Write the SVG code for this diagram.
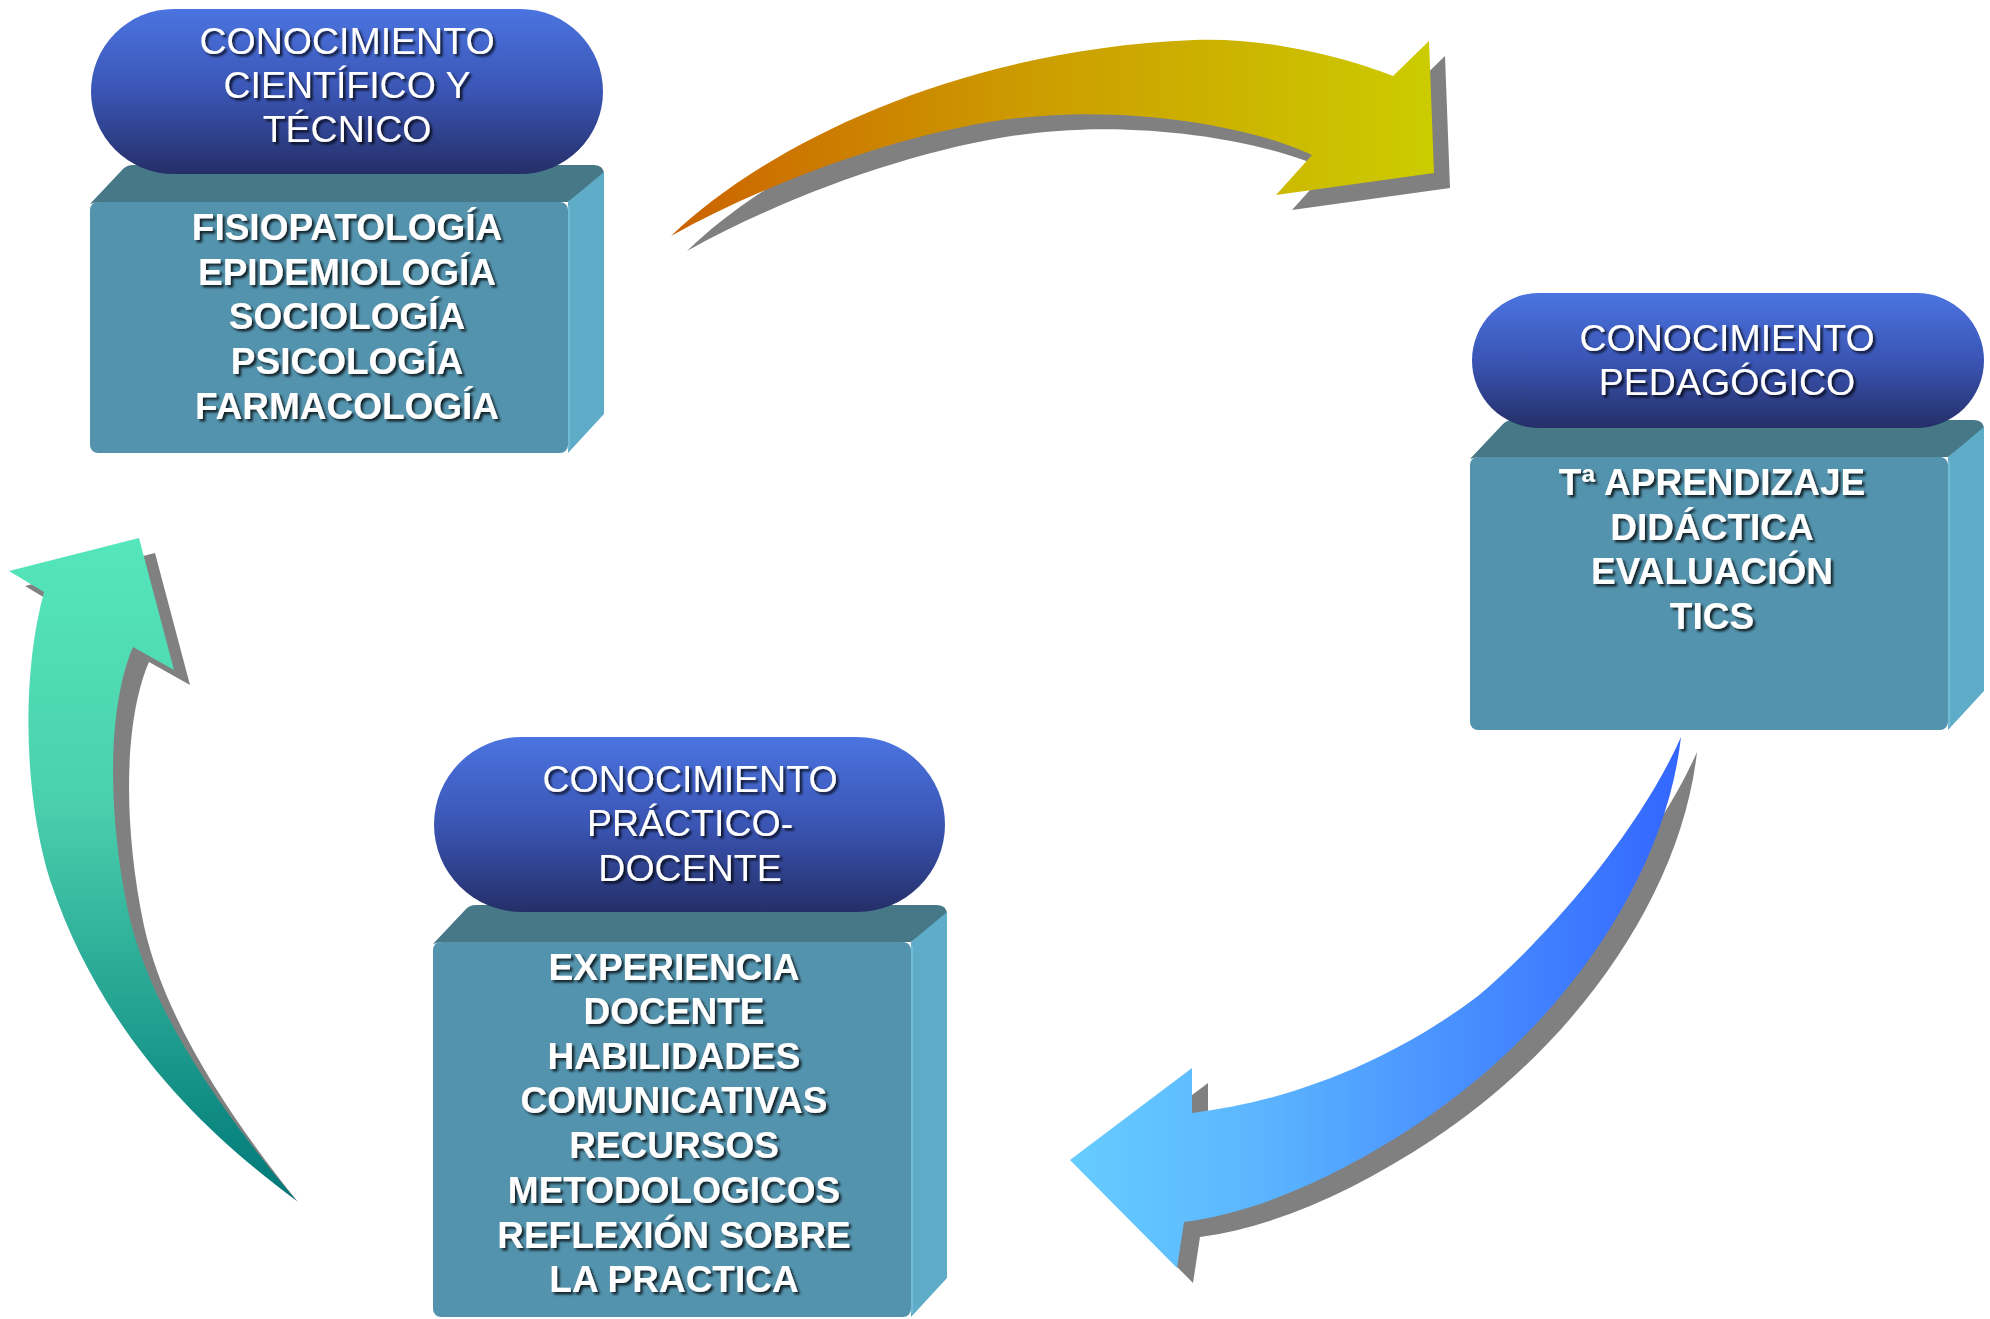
<svg xmlns="http://www.w3.org/2000/svg" width="1990" height="1319" viewBox="0 0 1990 1319">
  <defs>
    <linearGradient id="pillGrad" x1="0" y1="0" x2="0" y2="1">
      <stop offset="0" stop-color="#4B74E0"/>
      <stop offset="0.5" stop-color="#3A55B4"/>
      <stop offset="1" stop-color="#252F68"/>
    </linearGradient>
    <linearGradient id="gradOrange" gradientUnits="userSpaceOnUse" x1="671" y1="0" x2="1434" y2="0">
      <stop offset="0" stop-color="#CC6200"/>
      <stop offset="0.45" stop-color="#CC9A00"/>
      <stop offset="1" stop-color="#CCCC00"/>
    </linearGradient>
    <linearGradient id="gradBlue" gradientUnits="userSpaceOnUse" x1="1070" y1="0" x2="1681" y2="0">
      <stop offset="0" stop-color="#66CCFF"/>
      <stop offset="0.3" stop-color="#5CB6FF"/>
      <stop offset="1" stop-color="#3366FF"/>
    </linearGradient>
    <linearGradient id="gradTeal" gradientUnits="userSpaceOnUse" x1="0" y1="538" x2="0" y2="1200">
      <stop offset="0" stop-color="#55E6BB"/>
      <stop offset="0.4" stop-color="#4AD0AD"/>
      <stop offset="1" stop-color="#007878"/>
    </linearGradient>
    <filter id="txtShadow" x="-10%" y="-30%" width="120%" height="160%">
      <feDropShadow dx="2.5" dy="2.5" stdDeviation="1.2" flood-color="#000" flood-opacity="0.75"/>
    </filter>
    <style>
      .front { fill: #5393AD; }
      .top { fill: #467888; }
      .side { fill: #5EACC8; }
      .edge { stroke: #72BCD6; stroke-width: 2; fill: none; }
      .pill { fill: url(#pillGrad); }
      .shadow { fill: #808080; }
      .title { font-family: "Liberation Sans", Arial, sans-serif; font-size: 37.5px; fill: #FFFFFF; text-anchor: middle; filter: url(#txtShadow); }
      .body { font-family: "Liberation Sans", Arial, sans-serif; font-size: 37px; font-weight: bold; fill: #FFFFFF; text-anchor: middle; filter: url(#txtShadow); }
    </style>
  </defs>

  <rect width="1990" height="1319" fill="#FFFFFF"/>

  <g id="connectors">
    <g id="arrow-top">
      <path class="shadow" transform="translate(16,15)" d="M671,236 C760,150 950,50 1194,40 C1260,37 1340,55 1393,76 L1429,41 L1434,173 L1276,195 L1312,155 C1260,130 1150,108 1042,116 C940,122 790,170 671,236 Z"/>
      <path fill="url(#gradOrange)" d="M671,236 C760,150 950,50 1194,40 C1260,37 1340,55 1393,76 L1429,41 L1434,173 L1276,195 L1312,155 C1260,130 1150,108 1042,116 C940,122 790,170 671,236 Z"/>
    </g>
    <g id="arrow-right">
      <path class="shadow" transform="translate(16,15)" d="M1681,737 C1665,880 1560,1030 1416,1125 C1340,1175 1260,1212 1184,1222 L1177,1268 L1070,1160 L1192,1068 L1192,1113 C1300,1100 1400,1055 1478,996 C1550,935 1640,830 1681,737 Z"/>
      <path fill="url(#gradBlue)" d="M1681,737 C1665,880 1560,1030 1416,1125 C1340,1175 1260,1212 1184,1222 L1177,1268 L1070,1160 L1192,1068 L1192,1113 C1300,1100 1400,1055 1478,996 C1550,935 1640,830 1681,737 Z"/>
    </g>
    <g id="arrow-left">
      <path class="shadow" d="M298,1202 C216,1140 116,1040 66,895 C41,815 36,695 60,607 L25,586 L155,553 L190,685 L149,662 C126,715 121,815 144,926 C166,1025 236,1125 298,1202 Z"/>
      <path fill="url(#gradTeal)" d="M296,1200 C200,1130 100,1030 50,880 C25,800 20,680 44,592 L9,571 L139,538 L174,670 L133,647 C110,700 105,800 128,911 C150,1010 220,1110 296,1200 Z"/>
    </g>
  </g>

  <g id="node-cientifico">
    <g transform="translate(90,202)">
      <path class="top" d="M0,2 L33,-33 Q37,-37 43,-37 L504,-37 Q514,-37 514,-27 L478,0 L8,0 Z"/>
      <path class="side" d="M478,0 L514,-30 L514,212 L478,251 Z"/>
      <rect class="front" x="0" y="0" width="478" height="251" rx="8"/>
      <path class="edge" d="M479,4 L479,247"/>
    </g>
    <rect class="pill" x="91" y="9" width="512" height="165" rx="82.5"/>
    <text class="title" x="347" y="54">CONOCIMIENTO</text>
    <text class="title" x="347" y="98">CIENTÍFICO Y</text>
    <text class="title" x="347" y="142">TÉCNICO</text>
    <text class="body" x="347" y="240">FISIOPATOLOGÍA</text>
    <text class="body" x="347" y="285">EPIDEMIOLOGÍA</text>
    <text class="body" x="347" y="329">SOCIOLOGÍA</text>
    <text class="body" x="347" y="374">PSICOLOGÍA</text>
    <text class="body" x="347" y="419">FARMACOLOGÍA</text>
  </g>

  <g id="node-pedagogico">
    <g transform="translate(1470,457)">
      <path class="top" d="M0,2 L33,-33 Q37,-37 43,-37 L504,-37 Q514,-37 514,-27 L478,0 L8,0 Z"/>
      <path class="side" d="M478,0 L514,-30 L514,234 L478,273 Z"/>
      <rect class="front" x="0" y="0" width="478" height="273" rx="8"/>
      <path class="edge" d="M479,4 L479,269"/>
    </g>
    <rect class="pill" x="1472" y="293" width="512" height="135" rx="67.5"/>
    <text class="title" x="1727" y="351">CONOCIMIENTO</text>
    <text class="title" x="1727" y="395">PEDAGÓGICO</text>
    <text class="body" x="1712" y="495">Tª APRENDIZAJE</text>
    <text class="body" x="1712" y="540">DIDÁCTICA</text>
    <text class="body" x="1712" y="584">EVALUACIÓN</text>
    <text class="body" x="1712" y="629">TICS</text>
  </g>

  <g id="node-practico">
    <g transform="translate(433,942)">
      <path class="top" d="M0,2 L33,-33 Q37,-37 43,-37 L504,-37 Q514,-37 514,-27 L478,0 L8,0 Z"/>
      <path class="side" d="M478,0 L514,-30 L514,336 L478,375 Z"/>
      <rect class="front" x="0" y="0" width="478" height="375" rx="8"/>
      <path class="edge" d="M479,4 L479,371"/>
    </g>
    <rect class="pill" x="434" y="737" width="511" height="175" rx="87.5"/>
    <text class="title" x="690" y="792">CONOCIMIENTO</text>
    <text class="title" x="690" y="836">PRÁCTICO-</text>
    <text class="title" x="690" y="881">DOCENTE</text>
    <text class="body" x="674" y="980">EXPERIENCIA</text>
    <text class="body" x="674" y="1024">DOCENTE</text>
    <text class="body" x="674" y="1069">HABILIDADES</text>
    <text class="body" x="674" y="1113">COMUNICATIVAS</text>
    <text class="body" x="674" y="1158">RECURSOS</text>
    <text class="body" x="674" y="1203">METODOLOGICOS</text>
    <text class="body" x="674" y="1248">REFLEXIÓN SOBRE</text>
    <text class="body" x="674" y="1292">LA PRACTICA</text>
  </g>
</svg>
